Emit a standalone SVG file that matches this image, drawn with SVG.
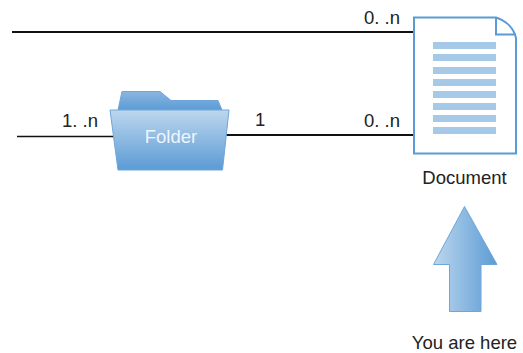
<svg xmlns="http://www.w3.org/2000/svg" width="523" height="353" viewBox="0 0 523 353">
<style>
text{font-family:"Liberation Sans",Arial,sans-serif;font-size:18.500px;fill:#222}
.c{stroke:#111;fill:none}
.bar{fill:#a6c9e8}
</style>
<defs>
<linearGradient id="v" x1="0" y1="0" x2="0" y2="1"><stop offset="0" stop-color="#bdd7ee"/><stop offset="1" stop-color="#5b9bd5"/></linearGradient>
<linearGradient id="tab" x1="0" y1="0" x2="0" y2="1"><stop offset="0" stop-color="#8ab6e0"/><stop offset="1" stop-color="#5b9bd5"/></linearGradient>
<linearGradient id="h" x1="0" y1="0" x2="1" y2="0"><stop offset="0" stop-color="#bdd7ee"/><stop offset="1" stop-color="#5b9bd5"/></linearGradient>
</defs>
<g id="connectors">
<path class="c" stroke-width="2" d="M12 32H414"/>
<path class="c" stroke-width="2" d="M226 135H414"/>
<path class="c" stroke-width="1.300" d="M17 136.500H115"/>
</g>
<g id="labels">
<text x="364" y="24">0. .n</text>
<text x="364" y="127">0. .n</text>
<text x="62" y="127">1. .n</text>
<text x="255" y="126">1</text>
</g>
<g id="folder">
<path d="M118 110L122 91.500H160L171 100.500H218L222 110Z" fill="url(#tab)" stroke="#6fa6da" stroke-width="1"/>
<path d="M110 110H229L222.500 170H118Z" fill="url(#v)" stroke="#6fa6da" stroke-width="1"/>
<text x="171" y="143" text-anchor="middle" style="fill:#eef5fb">Folder</text>
</g>
<g id="document">
<path d="M414 17.500H496C507 21 514 29 516 38V153.500H414Z" fill="#fff" stroke="#5b9bd5" stroke-width="2"/>
<path d="M496 17.500V34.500H516" fill="none" stroke="#5b9bd5" stroke-width="2"/>
<rect class="bar" x="433" y="42" width="63" height="7"/>
<rect class="bar" x="433" y="54" width="63" height="7"/>
<rect class="bar" x="433" y="67" width="63" height="7"/>
<rect class="bar" x="433" y="79" width="63" height="7"/>
<rect class="bar" x="433" y="91" width="63" height="7"/>
<rect class="bar" x="433" y="103" width="63" height="7"/>
<rect class="bar" x="433" y="115" width="63" height="7"/>
<rect class="bar" x="433" y="127" width="63" height="7"/>
<text x="464.500" y="184" text-anchor="middle">Document</text>
</g>
<g id="here">
<path d="M464.500 206.500L497 264.500H481V311.500H449.500V264.500H433.500Z" fill="url(#h)" stroke="#6fa6da" stroke-width="1"/>
<text x="464.500" y="349" text-anchor="middle">You are here</text>
</g>
</svg>
